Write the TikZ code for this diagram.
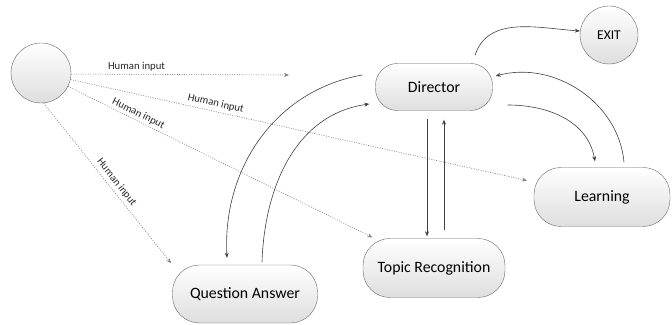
\documentclass[tikz,border=0pt]{standalone}
\usepackage{fontspec}
\setmainfont{Carlito}
\usetikzlibrary{arrows.meta}

\begin{document}
\begin{tikzpicture}[
  x=1pt, y=1pt, >={Stealth[length=5pt,width=4pt]},
  font=\fontsize{15.8}{18}\selectfont,
  state/.style={draw=black!60,rectangle,rounded corners=27pt,top color=white,
    bottom color=black!13,inner sep=0pt,align=center},
  term/.style={draw=black!60,circle,top color=white,bottom color=black!13,inner sep=0pt},
  flow/.style={->,draw=black!75,line width=0.6pt},
  input/.style={->,draw=black!50,dash pattern=on 1pt off 1.4pt,line width=0.6pt},
  lbl/.style={font=\fontsize{10.7}{12}\selectfont,text=black!85,inner sep=1pt}
]
\useasboundingbox (0,0) rectangle (672,324);

% States
\node[term, minimum size=60pt] (human) at (41,251) {};
\node[term, minimum size=58pt, font=\fontsize{13.5}{16}\selectfont] (exit) at (609,289) {EXIT};
\node[state, rounded corners=22pt, minimum width=117pt, minimum height=47pt] (dir) at (434,237) {Director};
\node[state, minimum width=136pt, minimum height=59pt] (learn) at (602,127) {Learning};
\node[state, minimum width=142pt, minimum height=59pt] (topic) at (434,56) {Topic Recognition};
\node[state, minimum width=145pt, minimum height=58pt] (qa) at (245,30) {Question Answer};
\coordinate (hi1) at (289,249);

% Human input (dotted)
\draw[input] (human.-2) -- node[lbl,pos=.3,above=2pt]{Human input} (hi1);
\draw[input, shorten >=7pt] (human) -- node[lbl,pos=.31,sloped,above=2pt]{Human input} (learn);
\draw[input, shorten >=2pt] (human) -- node[lbl,pos=.22,sloped,above=1pt]{Human input} (topic);
\draw[input, shorten >=2pt] (human.-85) -- node[lbl,pos=.52,sloped,above=2pt]{Human input} (qa.north west);

% Director loops
\draw[flow] ([xshift=41pt,yshift=8pt]dir.north) to[out=72,in=176] ([yshift=4pt]exit.west);
\draw[flow] ([xshift=-13pt,yshift=12pt]dir.west) to[out=190,in=93] ([xshift=-18pt,yshift=7pt]qa.north);
\draw[flow] ([xshift=17pt,yshift=3pt]qa.north) to[out=88,in=188] ([xshift=-6pt,yshift=-17pt]dir.west);
\draw[flow, shorten <=8pt, shorten >=2pt] ([xshift=-7pt]dir.south) -- ([xshift=-7pt]topic.north);
\draw[flow, shorten <=8pt, shorten >=9pt] ([xshift=10pt]topic.north) -- ([xshift=10pt]dir.south);
\draw[flow] ([xshift=15pt,yshift=-18pt]dir.east) to[out=0,in=100] ([xshift=-7pt,yshift=6pt]learn.north);
\draw[flow] ([xshift=22pt,yshift=5pt]learn.north) to[out=95,in=15] ([xshift=3pt,yshift=11pt]dir.east);
\end{tikzpicture}
\end{document}
